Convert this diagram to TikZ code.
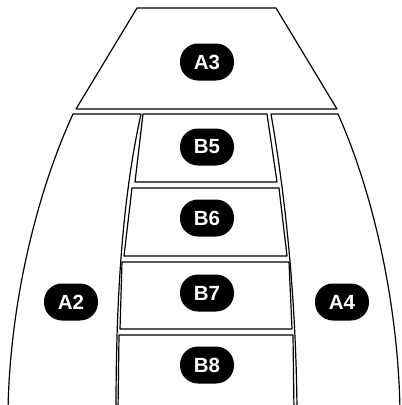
\documentclass[tikz,border=0pt]{standalone}
\usepackage{fontspec}
\setmainfont{Liberation Sans}
\begin{document}
\begin{tikzpicture}[x=1pt,y=-1pt,
  zone/.style={draw=black,line width=1.2pt,line join=round},
  tag/.style={fill=black,text=white,minimum width=54pt,minimum height=37pt,
    rounded corners=18pt,inner sep=0pt,font=\fontsize{20.5}{20.5}\selectfont\bfseries}]
\useasboundingbox (0,0) rectangle (402,405);
\clip (0,0) rectangle (402,405);
% A3
\draw[zone] (137,8) -- (276,8) -- (337,109) -- (76,109) -- cycle;
% A2
\draw[zone] (116,410) .. controls (116,300) and (122,200) .. (141,114) -- (73,114)
  .. controls (38,190) and (10,300) .. (8,410);
% A4
\draw[zone] (297,410) .. controls (296,300) and (286,200) .. (271,114) -- (338,114)
  .. controls (372,190) and (398,300) .. (400,410);
% B zones
\draw[zone] (143,114) -- (267,114) -- (277,182) -- (135,182) -- cycle;
\draw[zone] (132,188) -- (279,188) -- (287,256) -- (124,256) -- cycle;
\draw[zone] (122,262) -- (289,262) -- (292,329) -- (120,329) -- cycle;
\draw[zone] (118,410) -- (119,335) -- (293,335) -- (294,410);
% labels
\node[tag] (a3) at (207,62) {A3};
\node[tag] (b5) at (207,147) {B5};
\node[tag] (b6) at (207,218) {B6};
\node[tag] (b7) at (207,293) {B7};
\node[tag] (b8) at (207,365) {B8};
\node[tag] (a2) at (71,302) {A2};
\node[tag] (a4) at (342,302) {A4};
\end{tikzpicture}
\end{document}
